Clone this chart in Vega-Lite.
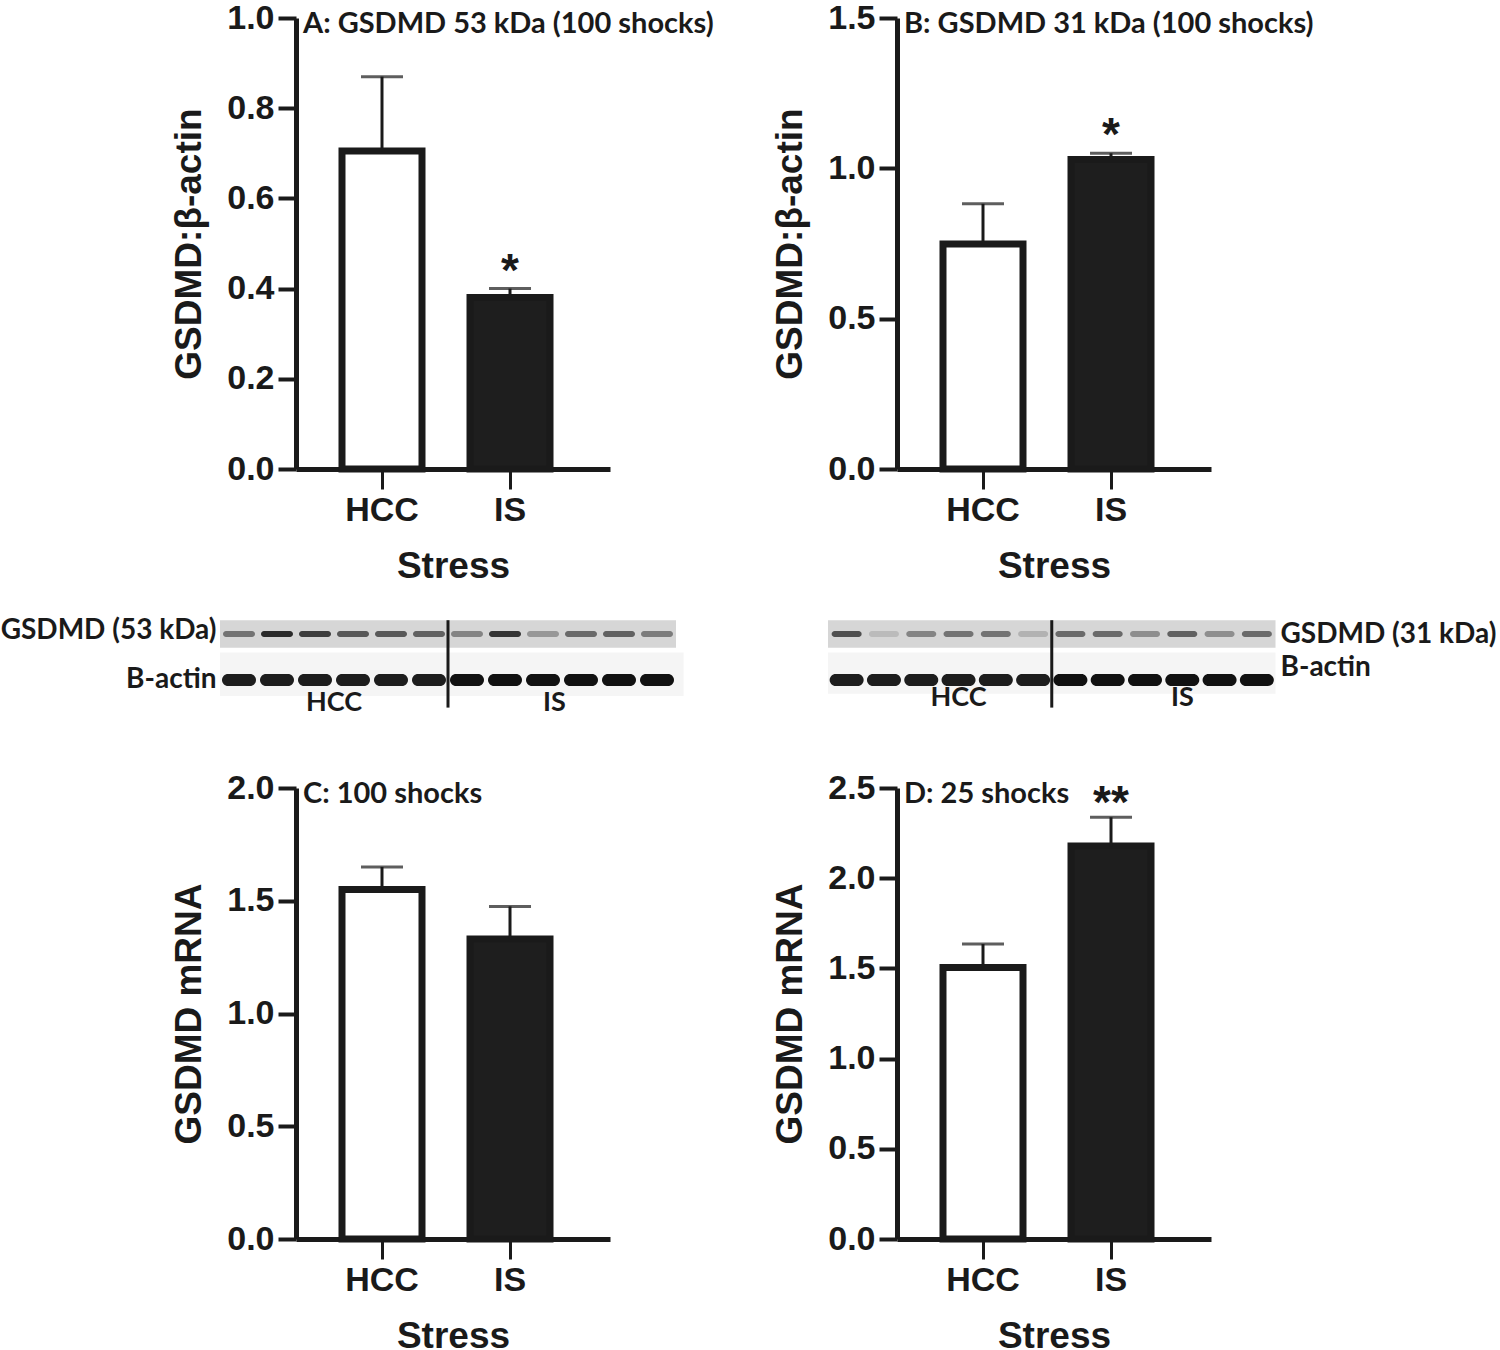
{
  "$schema": "https://vega.github.io/schema/vega-lite/v6.json",
  "background": "white",
  "padding": {"left": 0, "top": 1, "right": 0, "bottom": 0},
  "autosize": {"type": "pad"},
  "bounds": "flush",
  "align": "each",
  "columns": 2,
  "spacing": {"row": 99, "column": 287},
  "config": {
    "view": {"stroke": null},
    "axis": {
      "grid": false,
      "domainColor": "#1a1a1a", "domainWidth": 5,
      "tickColor": "#1a1a1a", "tickWidth": 4,
      "labelFont": "Liberation Sans", "labelFontWeight": "bold", "labelFontSize": 34, "labelColor": "#1a1a1a", "labelLimit": 0,
      "titleFont": "Liberation Sans", "titleFontWeight": "bold", "titleFontSize": 37, "titleColor": "#1a1a1a"
    },
    "axisY": {"tickSize": 18, "labelPadding": 4, "titlePadding": 18},
    "axisX": {"tickSize": 20, "tickWidth": 3, "labelPadding": 4, "titlePadding": 21, "labelAngle": 0},
    "title": {"anchor": "start", "frame": "group", "offset": -38, "dx": 7, "font": "Lato", "fontSize": 29, "fontWeight": "bold", "color": "#1a1a1a"}
  },
  "concat": [
    {
      "width": 314, "height": 451,
      "title": {"text": "A: GSDMD 53 kDa (100 shocks)"},
      "data": {"values": [
        {"group": "HCC", "mean": 0.705, "upper": 0.87, "sig": ""},
        {"group": "IS", "mean": 0.38, "upper": 0.40, "sig": "*"}
      ]},
      "encoding": {"x": {"field": "group", "type": "nominal", "scale": {"paddingInner": 0.375, "paddingOuter": 0.414, "align": 0.434}, "axis": {"title": "Stress"}}},
      "layer": [
        {"mark": {"type": "bar", "stroke": "#1a1a1a", "strokeWidth": 7},
         "encoding": {
           "y": {"field": "mean", "type": "quantitative", "scale": {"domain": [0, 1], "nice": false}, "axis": {"values": [0, 0.2, 0.4, 0.6, 0.8, 1.0], "format": ".1f", "title": "GSDMD:β-actin"}},
           "fill": {"field": "group", "type": "nominal", "scale": {"domain": ["HCC", "IS"], "range": ["#ffffff", "#1e1e1e"]}, "legend": null}}},
        {"mark": {"type": "rule", "strokeWidth": 3, "color": "#1a1a1a"},
         "encoding": {"y": {"field": "mean", "type": "quantitative"}, "y2": {"field": "upper"}}},
        {"mark": {"type": "tick", "orient": "horizontal", "size": 42, "thickness": 3, "color": "#1a1a1a"},
         "encoding": {"y": {"field": "upper", "type": "quantitative"}}},
        {"mark": {"type": "text", "font": "Liberation Sans", "fontWeight": "bold", "fontSize": 46, "baseline": "alphabetic", "dy": -3, "color": "#1a1a1a"},
         "encoding": {"y": {"field": "upper", "type": "quantitative"}, "text": {"field": "sig"}}}
      ]
    },
    {
      "width": 314, "height": 451,
      "title": {"text": "B: GSDMD 31 kDa (100 shocks)"},
      "data": {"values": [
        {"group": "HCC", "mean": 0.748, "upper": 0.882, "sig": ""},
        {"group": "IS", "mean": 1.029, "upper": 1.05, "sig": "*"}
      ]},
      "encoding": {"x": {"field": "group", "type": "nominal", "scale": {"paddingInner": 0.375, "paddingOuter": 0.414, "align": 0.434}, "axis": {"title": "Stress"}}},
      "layer": [
        {"mark": {"type": "bar", "stroke": "#1a1a1a", "strokeWidth": 7},
         "encoding": {
           "y": {"field": "mean", "type": "quantitative", "scale": {"domain": [0, 1.5], "nice": false}, "axis": {"values": [0, 0.5, 1.0, 1.5], "format": ".1f", "title": "GSDMD:β-actin"}},
           "fill": {"field": "group", "type": "nominal", "scale": {"domain": ["HCC", "IS"], "range": ["#ffffff", "#1e1e1e"]}, "legend": null}}},
        {"mark": {"type": "rule", "strokeWidth": 3, "color": "#1a1a1a"},
         "encoding": {"y": {"field": "mean", "type": "quantitative"}, "y2": {"field": "upper"}}},
        {"mark": {"type": "tick", "orient": "horizontal", "size": 42, "thickness": 3, "color": "#1a1a1a"},
         "encoding": {"y": {"field": "upper", "type": "quantitative"}}},
        {"mark": {"type": "text", "font": "Liberation Sans", "fontWeight": "bold", "fontSize": 46, "baseline": "alphabetic", "dy": -3, "color": "#1a1a1a"},
         "encoding": {"y": {"field": "upper", "type": "quantitative"}, "text": {"field": "sig"}}}
      ]
    },
    {
      "width": 314, "height": 121,
      "data": {"values": [
        {"protein": "GSDMD", "row": 1, "lane": 1, "intensity": 0.55},
        {"protein": "GSDMD", "row": 1, "lane": 2, "intensity": 0.95},
        {"protein": "GSDMD", "row": 1, "lane": 3, "intensity": 0.85},
        {"protein": "GSDMD", "row": 1, "lane": 4, "intensity": 0.7},
        {"protein": "GSDMD", "row": 1, "lane": 5, "intensity": 0.7},
        {"protein": "GSDMD", "row": 1, "lane": 6, "intensity": 0.65},
        {"protein": "GSDMD", "row": 1, "lane": 7, "intensity": 0.45},
        {"protein": "GSDMD", "row": 1, "lane": 8, "intensity": 0.9},
        {"protein": "GSDMD", "row": 1, "lane": 9, "intensity": 0.35},
        {"protein": "GSDMD", "row": 1, "lane": 10, "intensity": 0.6},
        {"protein": "GSDMD", "row": 1, "lane": 11, "intensity": 0.65},
        {"protein": "GSDMD", "row": 1, "lane": 12, "intensity": 0.5},
        {"protein": "B-actin", "row": 2, "lane": 1, "intensity": 0.95},
        {"protein": "B-actin", "row": 2, "lane": 2, "intensity": 0.95},
        {"protein": "B-actin", "row": 2, "lane": 3, "intensity": 0.95},
        {"protein": "B-actin", "row": 2, "lane": 4, "intensity": 0.95},
        {"protein": "B-actin", "row": 2, "lane": 5, "intensity": 0.95},
        {"protein": "B-actin", "row": 2, "lane": 6, "intensity": 0.95},
        {"protein": "B-actin", "row": 2, "lane": 7, "intensity": 1},
        {"protein": "B-actin", "row": 2, "lane": 8, "intensity": 1},
        {"protein": "B-actin", "row": 2, "lane": 9, "intensity": 1},
        {"protein": "B-actin", "row": 2, "lane": 10, "intensity": 1},
        {"protein": "B-actin", "row": 2, "lane": 11, "intensity": 1},
        {"protein": "B-actin", "row": 2, "lane": 12, "intensity": 1}
      ]},
      "layer": [
        {"data": {"values": [{"strip": "GSDMD"}]},
         "mark": {"type": "rect", "fill": "#d6d6d6"},
         "encoding": {
           "x": {"datum": 0.5, "type": "quantitative", "scale": {"domain": [2.5, 10.763], "zero": false, "nice": false}, "axis": null},
           "x2": {"datum": 12.5},
           "y": {"datum": 0.7, "type": "quantitative", "scale": {"domain": [-0.4348, 2.1957], "zero": false, "nice": false, "reverse": true}, "axis": {"values": [0.93, 2.0], "labelExpr": "datum.value < 1.5 ? 'GSDMD (53 kDa)' : 'B-actin'", "domain": false, "ticks": false, "tickSize": 0, "labelPadding": 4, "offset": 76, "labelFont": "Lato", "labelFontSize": 28, "title": null}},
           "y2": {"datum": 1.3}}},
        {"data": {"values": [{"strip": "actin"}]},
         "mark": {"type": "rect", "fill": "#f5f5f5"},
         "encoding": {
           "x": {"datum": 0.5, "type": "quantitative"},
           "x2": {"datum": 12.7},
           "y": {"datum": 1.4, "type": "quantitative"},
           "y2": {"datum": 2.35}}},
        {"transform": [{"filter": "datum.protein == 'GSDMD'"}],
         "mark": {"type": "tick", "orient": "horizontal", "size": 32, "thickness": 6, "color": "#222222", "cornerRadius": 3},
         "encoding": {
           "x": {"field": "lane", "type": "quantitative"},
           "y": {"field": "row", "type": "quantitative"},
           "opacity": {"field": "intensity", "type": "quantitative", "scale": {"domain": [0, 1], "range": [0, 1]}, "legend": null}}},
        {"transform": [{"filter": "datum.protein == 'B-actin'"}],
         "mark": {"type": "tick", "orient": "horizontal", "size": 34, "thickness": 12, "color": "#111111", "cornerRadius": 6},
         "encoding": {
           "x": {"field": "lane", "type": "quantitative"},
           "y": {"field": "row", "type": "quantitative"},
           "opacity": {"field": "intensity", "type": "quantitative", "scale": {"domain": [0, 1], "range": [0, 1]}, "legend": null}}},
        {"data": {"values": [{"divider": 1}]},
         "mark": {"type": "rule", "strokeWidth": 3, "color": "#1a1a1a"},
         "encoding": {
           "x": {"datum": 6.5, "type": "quantitative"},
           "y": {"datum": 0.7, "type": "quantitative"},
           "y2": {"datum": 2.6}}},
        {"data": {"values": [{"label": "HCC", "lane": 3.5}, {"label": "IS", "lane": 9.3}]},
         "mark": {"type": "text", "font": "Lato", "fontWeight": "bold", "fontSize": 27, "color": "#1a1a1a"},
         "encoding": {
           "x": {"field": "lane", "type": "quantitative"},
           "y": {"datum": 2.5, "type": "quantitative"},
           "text": {"field": "label"}}}
      ]
    },
    {
      "width": 314, "height": 121,
      "data": {"values": [
        {"protein": "GSDMD", "row": 1, "lane": 1, "intensity": 0.75},
        {"protein": "GSDMD", "row": 1, "lane": 2, "intensity": 0.15},
        {"protein": "GSDMD", "row": 1, "lane": 3, "intensity": 0.45},
        {"protein": "GSDMD", "row": 1, "lane": 4, "intensity": 0.55},
        {"protein": "GSDMD", "row": 1, "lane": 5, "intensity": 0.55},
        {"protein": "GSDMD", "row": 1, "lane": 6, "intensity": 0.2},
        {"protein": "GSDMD", "row": 1, "lane": 7, "intensity": 0.6},
        {"protein": "GSDMD", "row": 1, "lane": 8, "intensity": 0.6},
        {"protein": "GSDMD", "row": 1, "lane": 9, "intensity": 0.4},
        {"protein": "GSDMD", "row": 1, "lane": 10, "intensity": 0.65},
        {"protein": "GSDMD", "row": 1, "lane": 11, "intensity": 0.4},
        {"protein": "GSDMD", "row": 1, "lane": 12, "intensity": 0.6},
        {"protein": "B-actin", "row": 2, "lane": 1, "intensity": 0.95},
        {"protein": "B-actin", "row": 2, "lane": 2, "intensity": 0.95},
        {"protein": "B-actin", "row": 2, "lane": 3, "intensity": 0.95},
        {"protein": "B-actin", "row": 2, "lane": 4, "intensity": 0.95},
        {"protein": "B-actin", "row": 2, "lane": 5, "intensity": 0.95},
        {"protein": "B-actin", "row": 2, "lane": 6, "intensity": 0.95},
        {"protein": "B-actin", "row": 2, "lane": 7, "intensity": 1},
        {"protein": "B-actin", "row": 2, "lane": 8, "intensity": 1},
        {"protein": "B-actin", "row": 2, "lane": 9, "intensity": 1},
        {"protein": "B-actin", "row": 2, "lane": 10, "intensity": 1},
        {"protein": "B-actin", "row": 2, "lane": 11, "intensity": 1},
        {"protein": "B-actin", "row": 2, "lane": 12, "intensity": 1}
      ]},
      "layer": [
        {"data": {"values": [{"strip": "GSDMD"}]},
         "mark": {"type": "rect", "fill": "#d6d6d6"},
         "encoding": {
           "x": {"datum": 0.5, "type": "quantitative", "scale": {"domain": [2.35, 10.77], "zero": false, "nice": false}, "axis": null},
           "x2": {"datum": 12.5},
           "y": {"datum": 0.7, "type": "quantitative", "scale": {"domain": [-0.4348, 2.1957], "zero": false, "nice": false, "reverse": true}, "axis": {"orient": "right", "values": [1.02, 1.72], "labelExpr": "datum.value < 1.5 ? 'GSDMD (31 kDa)' : 'B-actin'", "domain": false, "ticks": false, "tickSize": 0, "labelPadding": 4, "offset": 65, "labelFont": "Lato", "labelFontSize": 28, "title": null}},
           "y2": {"datum": 1.3}}},
        {"data": {"values": [{"strip": "actin"}]},
         "mark": {"type": "rect", "fill": "#f5f5f5"},
         "encoding": {
           "x": {"datum": 0.5, "type": "quantitative"},
           "x2": {"datum": 12.5},
           "y": {"datum": 1.4, "type": "quantitative"},
           "y2": {"datum": 2.3}}},
        {"transform": [{"filter": "datum.protein == 'GSDMD'"}],
         "mark": {"type": "tick", "orient": "horizontal", "size": 30, "thickness": 6, "color": "#222222", "cornerRadius": 3},
         "encoding": {
           "x": {"field": "lane", "type": "quantitative"},
           "y": {"field": "row", "type": "quantitative"},
           "opacity": {"field": "intensity", "type": "quantitative", "scale": {"domain": [0, 1], "range": [0, 1]}, "legend": null}}},
        {"transform": [{"filter": "datum.protein == 'B-actin'"}],
         "mark": {"type": "tick", "orient": "horizontal", "size": 34, "thickness": 12, "color": "#111111", "cornerRadius": 6},
         "encoding": {
           "x": {"field": "lane", "type": "quantitative"},
           "y": {"field": "row", "type": "quantitative"},
           "opacity": {"field": "intensity", "type": "quantitative", "scale": {"domain": [0, 1], "range": [0, 1]}, "legend": null}}},
        {"data": {"values": [{"divider": 1}]},
         "mark": {"type": "rule", "strokeWidth": 3, "color": "#1a1a1a"},
         "encoding": {
           "x": {"datum": 6.5, "type": "quantitative"},
           "y": {"datum": 0.7, "type": "quantitative"},
           "y2": {"datum": 2.6}}},
        {"data": {"values": [{"label": "HCC", "lane": 4.0}, {"label": "IS", "lane": 10.0}]},
         "mark": {"type": "text", "font": "Lato", "fontWeight": "bold", "fontSize": 27, "color": "#1a1a1a"},
         "encoding": {
           "x": {"field": "lane", "type": "quantitative"},
           "y": {"datum": 2.4, "type": "quantitative"},
           "text": {"field": "label"}}}
      ]
    },
    {
      "width": 314, "height": 451,
      "title": {"text": "C: 100 shocks"},
      "data": {"values": [
        {"group": "HCC", "mean": 1.55, "upper": 1.65, "sig": ""},
        {"group": "IS", "mean": 1.33, "upper": 1.475, "sig": ""}
      ]},
      "encoding": {"x": {"field": "group", "type": "nominal", "scale": {"paddingInner": 0.375, "paddingOuter": 0.414, "align": 0.434}, "axis": {"title": "Stress"}}},
      "layer": [
        {"mark": {"type": "bar", "stroke": "#1a1a1a", "strokeWidth": 7},
         "encoding": {
           "y": {"field": "mean", "type": "quantitative", "scale": {"domain": [0, 2], "nice": false}, "axis": {"values": [0, 0.5, 1.0, 1.5, 2.0], "format": ".1f", "title": "GSDMD mRNA"}},
           "fill": {"field": "group", "type": "nominal", "scale": {"domain": ["HCC", "IS"], "range": ["#ffffff", "#1e1e1e"]}, "legend": null}}},
        {"mark": {"type": "rule", "strokeWidth": 3, "color": "#1a1a1a"},
         "encoding": {"y": {"field": "mean", "type": "quantitative"}, "y2": {"field": "upper"}}},
        {"mark": {"type": "tick", "orient": "horizontal", "size": 42, "thickness": 3, "color": "#1a1a1a"},
         "encoding": {"y": {"field": "upper", "type": "quantitative"}}}
      ]
    },
    {
      "width": 314, "height": 451,
      "title": {"text": "D: 25 shocks"},
      "data": {"values": [
        {"group": "HCC", "mean": 1.505, "upper": 1.635, "sig": ""},
        {"group": "IS", "mean": 2.178, "upper": 2.338, "sig": "**"}
      ]},
      "encoding": {"x": {"field": "group", "type": "nominal", "scale": {"paddingInner": 0.375, "paddingOuter": 0.414, "align": 0.434}, "axis": {"title": "Stress"}}},
      "layer": [
        {"mark": {"type": "bar", "stroke": "#1a1a1a", "strokeWidth": 7},
         "encoding": {
           "y": {"field": "mean", "type": "quantitative", "scale": {"domain": [0, 2.5], "nice": false}, "axis": {"values": [0, 0.5, 1.0, 1.5, 2.0, 2.5], "format": ".1f", "title": "GSDMD mRNA"}},
           "fill": {"field": "group", "type": "nominal", "scale": {"domain": ["HCC", "IS"], "range": ["#ffffff", "#1e1e1e"]}, "legend": null}}},
        {"mark": {"type": "rule", "strokeWidth": 3, "color": "#1a1a1a"},
         "encoding": {"y": {"field": "mean", "type": "quantitative"}, "y2": {"field": "upper"}}},
        {"mark": {"type": "tick", "orient": "horizontal", "size": 42, "thickness": 3, "color": "#1a1a1a"},
         "encoding": {"y": {"field": "upper", "type": "quantitative"}}},
        {"mark": {"type": "text", "font": "Liberation Sans", "fontWeight": "bold", "fontSize": 46, "baseline": "alphabetic", "dy": 1, "color": "#1a1a1a"},
         "encoding": {"y": {"field": "upper", "type": "quantitative"}, "text": {"field": "sig"}}}
      ]
    }
  ]
}
